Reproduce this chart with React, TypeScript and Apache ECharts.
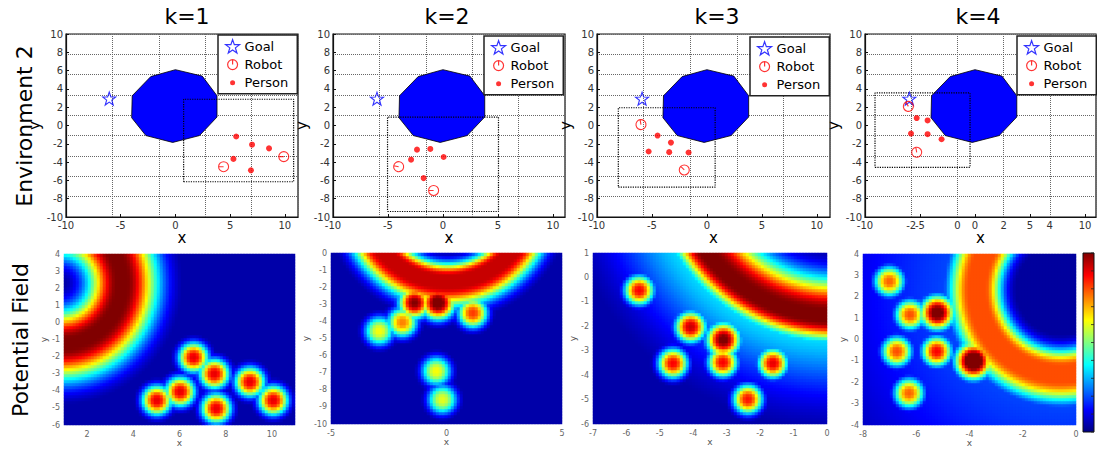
import React, { useEffect, useRef } from 'react';
import * as echarts from 'echarts';

const FONT = 'DejaVu Sans';
const TITLES = ['k=1', 'k=2', 'k=3', 'k=4'];
const ROW_LABELS = ['Environment 2', 'Potential Field'];

// ---------- top row: environment ----------
const OBSTACLE = [
  [0, 6.1], [2.45, 5.4], [3.8, 3.25], [3.8, 0.93], [2.2, -1.1],
  [-0.25, -1.85], [-2.7, -1.1], [-4.0, 0.85], [-3.95, 3.25], [-2.25, 5.35],
];
const GOALS = [[-6.05, 2.95], [-6.0, 2.93], [-5.9, 2.93], [-5.97, 2.93]];
const PERSONS_K1 = [[5.55, -1.2], [7.0, -2.1], [8.55, -2.5], [5.3, -3.65], [6.9, -4.9]];
const PERSONS_K2 = [[-2.36, -2.64], [-1.15, -2.56], [0.06, -3.44], [-2.9, -3.74], [-1.76, -5.75]];
const PERSONS_K3 = [[-4.49, -1.1], [-3.27, -1.87], [-5.3, -2.84], [-3.43, -2.91], [-1.67, -2.95]];
const PERSONS_K4 = [[-5.3, 0.81], [-4.31, 0.55], [-5.82, -0.88], [-4.31, -0.95], [-3.04, -1.5]];
const PERSONS = [PERSONS_K1, PERSONS_K2, PERSONS_K3, PERSONS_K4];
// x, y, heading-mark rotation (deg)
const ROBOTS_K1 = [[4.4, -4.5, 90], [9.9, -3.4, 90]];
const ROBOTS_K2 = [[-4.03, -4.5, 80], [-0.85, -7.1, 90]];
const ROBOTS_K3 = [[-6.0, 0.1, 10], [-2.06, -4.86, 45]];
const ROBOTS_K4 = [[-6.06, 2.09, 30], [-5.3, -2.93, 10]];
const ROBOTS = [ROBOTS_K1, ROBOTS_K2, ROBOTS_K3, ROBOTS_K4];
// x0, y0, x1, y1 of the dotted window
const VIEW_RECTS = [
  [0.75, -6.15, 10.8, 2.87],
  [-5.04, -9.4, 5.05, 0.92],
  [-8.06, -6.74, 0.75, 1.94],
  [-9.09, -4.57, -0.45, 3.56],
];
const TOP_X_MIN = -10;
const TOP_X_MAX = [11.2, 11.1, 11.2, 11.0];
const TOP_Y_MIN = -10;
const TOP_Y_MAX = 10;
const K4_EXTRA_X = [-4, 6];

// ---------- bottom row: potential field ----------
const FIELD_X_RANGES = [[1, 11], [-5, 5], [-7, 0], [-8, 0]];
const FIELD_Y_RANGES = [[-6, 4], [-10, 0], [-6, 1], [-4, 4]];
const FIELD_X_LABELS = [[2, 4, 6, 8, 10], [-5, 0, 5], [-7, -6, -5, -4, -3, -2, -1, 0], [-8, -6, -4, -2, 0]];
// ring: cx, cy, radius, plateau, sigmaIn, sigmaOut, peak, haloAmp, haloSigma
const RING_K1 = [0.88, 2.31, 2.64, 0.2, 0.88, 0.95, 1.0, 0, 1];
const RING_K2 = [0.06, 3.23, 3.62, 0.25, 0.4, 0.6, 0.93, 0, 1];
const RING_K3 = [0.24, 5.0, 4.8, 0.15, 0.7, 0.42, 1.0, 0.38, 1.6];
const RING_K4 = [-0.55, 2.34, 3.15, 0.3, 0.45, 0.55, 0.8, 0.2, 4.0];
const RINGS = [RING_K1, RING_K2, RING_K3, RING_K4];
// blob: x, y, peak, size
const BLOBS_K1 = [[6.62, -2.04, 0.9, 0.63], [7.52, -3.0, 0.9, 0.63], [9.06, -3.47, 0.9, 0.63], [6.04, -4.04, 0.9, 0.63], [5.03, -4.55, 0.9, 0.63], [7.6, -5.02, 0.9, 0.63], [10.07, -4.55, 0.9, 0.63]];
const BLOBS_K2 = [[-1.37, -2.9, 1.0, 0.66], [-0.36, -2.9, 1.05, 0.72], [1.15, -3.5, 0.82, 0.63], [-1.9, -4.05, 0.75, 0.63], [-2.9, -4.55, 0.62, 0.63], [-0.43, -6.9, 0.62, 0.63], [-0.17, -8.56, 0.6, 0.63]];
const BLOBS_K3 = [[-5.61, -0.52, 0.88, 0.43], [-4.07, -2.02, 0.93, 0.45], [-3.09, -2.54, 1.02, 0.49], [-4.6, -3.51, 0.88, 0.43], [-3.11, -3.47, 0.88, 0.43], [-1.61, -3.51, 0.9, 0.43], [-2.36, -4.98, 0.86, 0.43]];
const BLOBS_K4 = [[-7.0, 2.73, 0.78, 0.55], [-6.22, 1.17, 0.8, 0.55], [-5.2, 1.26, 1.05, 0.62], [-6.72, -0.55, 0.8, 0.55], [-5.22, -0.55, 0.88, 0.55], [-3.84, -1.0, 1.15, 0.66], [-6.26, -2.5, 0.78, 0.55]];
const BLOBS = [BLOBS_K1, BLOBS_K2, BLOBS_K3, BLOBS_K4];
const BLOB_SHAPE = 2.5;
const FIELD_ASPECT = [0.74, 0.74, 0.73, 0.8];
const FIELD_BASE = [0.04, 0.04, 0.04, 0.03];
const FIELD_NX = [77, 77, 78, 71];
const FIELD_NY = [57, 57, 57, 57];

const JET = ['#000080', '#0000ff', '#0080ff', '#00ffff', '#80ff80', '#ffff00', '#ff8000', '#ff0000', '#800000'];

// ---------- layout ----------
const TOP_GRIDS = [[66, 34, 232, 183], [333, 34, 232, 183], [597, 34, 233, 183], [865, 34, 231, 183]];
const BOTTOM_GRIDS = [[64, 254, 231, 171], [331, 253, 231, 171], [593, 253, 234, 171], [863, 254, 213, 171]];
const LEGEND_POS = [[218, 35], [484, 36], [750, 37], [1017, 36]];
const TITLE_X = [187, 447, 717, 978];

const STAR_PATH = 'path://M10 0 L12.35 6.76 L19.51 6.91 L13.8 11.24 L15.88 18.09 L10 14 L4.12 18.09 L6.2 11.24 L0.49 6.91 L7.65 6.76 Z';
const ROBOT_PATH = 'path://M0 10 A10 10 0 1 0 20 10 A10 10 0 1 0 0 10 Z M10 0 L10 10';
const ROBOT_ICON = 'path://M0 0 M24 24 M3.5 12 A8.5 8.5 0 1 0 20.5 12 A8.5 8.5 0 1 0 3.5 12 Z M12 3.5 L12 12';
const PERSON_ICON = 'path://M0 0 M24 24 M7.7 12 A4.3 4.3 0 1 0 16.3 12 A4.3 4.3 0 1 0 7.7 12 Z';

function ringValue(d: number, ring: number[]) {
  const w = ring[3], sIn = ring[4], sOut = ring[5], peak = ring[6], hAmp = ring[7], hS = ring[8];
  const a = Math.abs(d) - w;
  const s = d < 0 ? sIn : sOut;
  const core = a <= 0 ? peak : peak * Math.exp(-(a * a) / (2 * s * s));
  const hs = d < 0 ? sIn : hS;
  const halo = hAmp * Math.exp(-(d * d) / (2 * hs * hs));
  return Math.max(core, halo);
}

function fieldAt(k: number, x: number, y: number) {
  const ring = RINGS[k];
  const asp = FIELD_ASPECT[k];
  const dx = x - ring[0];
  const dy = (y - ring[1]) * asp;
  let v = Math.max(FIELD_BASE[k], ringValue(Math.sqrt(dx * dx + dy * dy) - ring[2], ring));
  for (const b of BLOBS[k]) {
    const bx = x - b[0];
    const by = (y - b[1]) * asp;
    const r = Math.sqrt(bx * bx + by * by) / b[3];
    v = Math.max(v, b[2] * Math.exp(-Math.pow(r, BLOB_SHAPE)));
  }
  return Math.min(1, v);
}

function buildOption() {
  const grids: any[] = [];
  const xAxes: any[] = [];
  const yAxes: any[] = [];
  const series: any[] = [];
  const legends: any[] = [];
  const graphics: any[] = [];
  const heatIdx: number[] = [];

  TOP_GRIDS.forEach((g, k) => {
    const gi = grids.length;
    grids.push({ left: g[0], top: g[1], width: g[2], height: g[3], show: true, borderColor: '#111', borderWidth: 1.2, backgroundColor: '#fff' });
    const xMain = xAxes.length;
    xAxes.push({
      type: 'value', gridIndex: gi, min: TOP_X_MIN, max: TOP_X_MAX[k], interval: 5, position: 'bottom',
      axisLine: { show: true, onZero: false, lineStyle: { color: '#111', width: 1.2 } },
      axisTick: { show: true, inside: true, length: 3, lineStyle: { color: '#111' } },
      axisLabel: { fontSize: 10, color: '#333', margin: 3, showMaxLabel: false, fontFamily: FONT },
      splitLine: { show: false },
      name: 'x', nameLocation: 'middle', nameGap: 13,
      nameTextStyle: { fontSize: 15, color: '#000', fontFamily: FONT },
    });
    xAxes.push({
      type: 'value', gridIndex: gi, min: 0, max: 5, interval: 1, position: 'top',
      axisLine: { show: false }, axisTick: { show: false }, axisLabel: { show: false },
      splitLine: { show: true, lineStyle: { type: 'dotted', color: '#666', width: 1 } },
    });
    if (k === 3) {
      xAxes.push({
        type: 'value', gridIndex: gi, min: K4_EXTRA_X[0], max: K4_EXTRA_X[1], interval: 2, position: 'bottom',
        axisLine: { show: false, onZero: false }, axisTick: { show: false },
        axisLabel: { fontSize: 10, color: '#333', margin: 3, showMaxLabel: false, showMinLabel: false, fontFamily: FONT },
        splitLine: { show: false },
      });
    }
    const yMain = yAxes.length;
    yAxes.push({
      type: 'value', gridIndex: gi, min: TOP_Y_MIN, max: TOP_Y_MAX, interval: 2, position: 'left',
      axisLine: { show: true, onZero: false, lineStyle: { color: '#111', width: 1.2 } },
      axisTick: { show: true, inside: true, length: 3, lineStyle: { color: '#111' } },
      axisLabel: { fontSize: 10, color: '#333', margin: 3, fontFamily: FONT },
      splitLine: { show: false },
      name: 'y', nameLocation: 'middle', nameGap: 21,
      nameTextStyle: { fontSize: 15, color: '#000', fontFamily: FONT },
    });
    yAxes.push({
      type: 'value', gridIndex: gi, min: 0, max: 9, interval: 1, position: 'right',
      axisLine: { show: false }, axisTick: { show: false }, axisLabel: { show: false },
      splitLine: { show: true, lineStyle: { type: 'dotted', color: '#666', width: 1 } },
    });

    series.push({
      type: 'custom', name: 'obstacle' + k, xAxisIndex: xMain, yAxisIndex: yMain, z: 2, silent: true,
      data: [[OBSTACLE[0][0], OBSTACLE[0][1]]],
      renderItem: (_p: any, api: any) => ({
        type: 'polygon',
        shape: { points: OBSTACLE.map((pt) => api.coord(pt)) },
        style: { fill: '#0000ff', stroke: '#000', lineWidth: 0.8 },
      }),
    });
    const r = VIEW_RECTS[k];
    series.push({
      type: 'line', name: 'window' + k, xAxisIndex: xMain, yAxisIndex: yMain, z: 3, silent: true,
      symbol: 'none',
      data: [[r[0], r[1]], [r[2], r[1]], [r[2], r[3]], [r[0], r[3]], [r[0], r[1]]],
      lineStyle: { type: 'dotted', color: '#000', width: 1.2 },
    });
    series.push({
      type: 'scatter', name: 'Goal', xAxisIndex: xMain, yAxisIndex: yMain, z: 4,
      symbol: STAR_PATH, symbolSize: 13, data: [GOALS[k]],
      itemStyle: { color: 'rgba(0,0,0,0)', borderColor: '#0000ff', borderWidth: 1.1 },
    });
    series.push({
      type: 'scatter', name: 'Robot', xAxisIndex: xMain, yAxisIndex: yMain, z: 4,
      symbol: ROBOT_PATH, symbolSize: 10,
      data: ROBOTS[k].map((rb) => ({ value: [rb[0], rb[1]], symbolRotate: rb[2] })),
      itemStyle: { color: 'rgba(0,0,0,0)', borderColor: '#ff0000', borderWidth: 1.1 },
    });
    series.push({
      type: 'scatter', name: 'Person', xAxisIndex: xMain, yAxisIndex: yMain, z: 4,
      symbol: 'circle', symbolSize: 6, data: PERSONS[k],
      itemStyle: { color: '#ff0000' },
    });

    legends.push({
      orient: 'vertical', left: LEGEND_POS[k][0], top: LEGEND_POS[k][1],
      padding: [4, 9, 4, 7], itemGap: 3.5, itemWidth: 14, itemHeight: 14,
      borderColor: '#222', borderWidth: 1.5, backgroundColor: '#fff', selectedMode: false,
      textStyle: { fontSize: 13, color: '#000', fontFamily: FONT },
      data: [
        { name: 'Goal', icon: STAR_PATH, itemStyle: { color: 'rgba(0,0,0,0)', borderColor: '#0000ff', borderWidth: 1.2 } },
        { name: 'Robot', icon: ROBOT_ICON, itemStyle: { color: 'rgba(0,0,0,0)', borderColor: '#ff0000', borderWidth: 1.2 } },
        { name: 'Person', icon: PERSON_ICON, itemStyle: { color: '#ff0000', borderWidth: 0 } },
      ],
    });

    graphics.push({
      type: 'text', x: TITLE_X[k], y: 16,
      style: { text: TITLES[k], font: '22px "DejaVu Sans"', fill: '#000', align: 'center', verticalAlign: 'middle' },
    });
  });

  BOTTOM_GRIDS.forEach((g, k) => {
    const gi = grids.length;
    grids.push({ left: g[0], top: g[1], width: g[2], height: g[3], show: false });
    const [x0, x1] = FIELD_X_RANGES[k];
    const [y0, y1] = FIELD_Y_RANGES[k];
    const nx = FIELD_NX[k];
    const ny = FIELD_NY[k];
    const xCat = xAxes.length;
    xAxes.push({ type: 'category', gridIndex: gi, data: Array.from({ length: nx }, (_, i) => i), show: false });
    const yCat = yAxes.length;
    yAxes.push({ type: 'category', gridIndex: gi, data: Array.from({ length: ny }, (_, i) => i), show: false });
    const labelsX = FIELD_X_LABELS[k];
    xAxes.push({
      type: 'value', gridIndex: gi, min: x0, max: x1, interval: 1, position: 'bottom',
      axisLine: { show: false, onZero: false }, axisTick: { show: false },
      axisLabel: {
        fontSize: 8, color: '#666', margin: 5, fontFamily: FONT,
        formatter: (v: number) => (labelsX.indexOf(v) >= 0 ? String(v) : ''),
      },
      splitLine: { show: false },
      name: 'x', nameLocation: 'middle', nameGap: 12,
      nameTextStyle: { fontSize: 9, color: '#555', fontFamily: FONT },
    });
    yAxes.push({
      type: 'value', gridIndex: gi, min: y0, max: y1, interval: 1, position: 'left',
      axisLine: { show: false, onZero: false }, axisTick: { show: false },
      axisLabel: { fontSize: 8, color: '#666', margin: 4, fontFamily: FONT },
      splitLine: { show: false },
      name: 'y', nameLocation: 'middle', nameGap: 14,
      nameTextStyle: { fontSize: 9, color: '#555', fontFamily: FONT },
    });
    const data: number[][] = [];
    for (let i = 0; i < nx; i++) {
      const x = x0 + ((i + 0.5) * (x1 - x0)) / nx;
      for (let j = 0; j < ny; j++) {
        const y = y0 + ((j + 0.5) * (y1 - y0)) / ny;
        data.push([i, j, Math.round(fieldAt(k, x, y) * 1000) / 1000]);
      }
    }
    heatIdx.push(series.length);
    series.push({
      type: 'heatmap', name: 'field' + k, xAxisIndex: xCat, yAxisIndex: yCat,
      data, progressive: 0, silent: true, emphasis: { disabled: true },
    });
  });

  // row labels
  graphics.push({
    type: 'text', x: 24, y: 126, rotation: Math.PI / 2,
    style: { text: ROW_LABELS[0], font: '22px "DejaVu Sans"', fill: '#000', align: 'center', verticalAlign: 'middle' },
  });
  graphics.push({
    type: 'text', x: 20, y: 340, rotation: Math.PI / 2,
    style: { text: ROW_LABELS[1], font: '22px "DejaVu Sans"', fill: '#000', align: 'center', verticalAlign: 'middle' },
  });
  // colour bar
  const stops = JET.slice().reverse().map((c, i) => ({ offset: i / (JET.length - 1), color: c }));
  graphics.push({
    type: 'rect', shape: { x: 1083, y: 253, width: 11, height: 179 },
    style: { fill: new echarts.graphic.LinearGradient(0, 0, 0, 1, stops), stroke: '#111', lineWidth: 1 },
  });
  for (let t = 0; t <= 10; t++) {
    const yy = 253 + (179 * t) / 10;
    graphics.push({ type: 'line', shape: { x1: 1091, y1: yy, x2: 1094, y2: yy }, style: { stroke: '#222', lineWidth: 0.8 } });
  }

  return {
    animation: false,
    backgroundColor: '#fff',
    grid: grids,
    xAxis: xAxes,
    yAxis: yAxes,
    legend: legends,
    visualMap: {
      type: 'continuous', show: false, min: 0, max: 1, seriesIndex: heatIdx, dimension: 2,
      inRange: { color: JET },
    },
    graphic: graphics,
    series,
  };
}

export default function App() {
  const ref = useRef<HTMLDivElement>(null);
  useEffect(() => {
    if (!ref.current) return;
    const chart = echarts.init(ref.current, undefined, { renderer: 'svg' });
    chart.setOption(buildOption() as any);
    return () => chart.dispose();
  }, []);
  return (
    <div
      ref={ref}
      style={{ position: 'absolute', left: 0, top: 0, width: 1097, height: 452, background: '#fff' }}
    />
  );
}
